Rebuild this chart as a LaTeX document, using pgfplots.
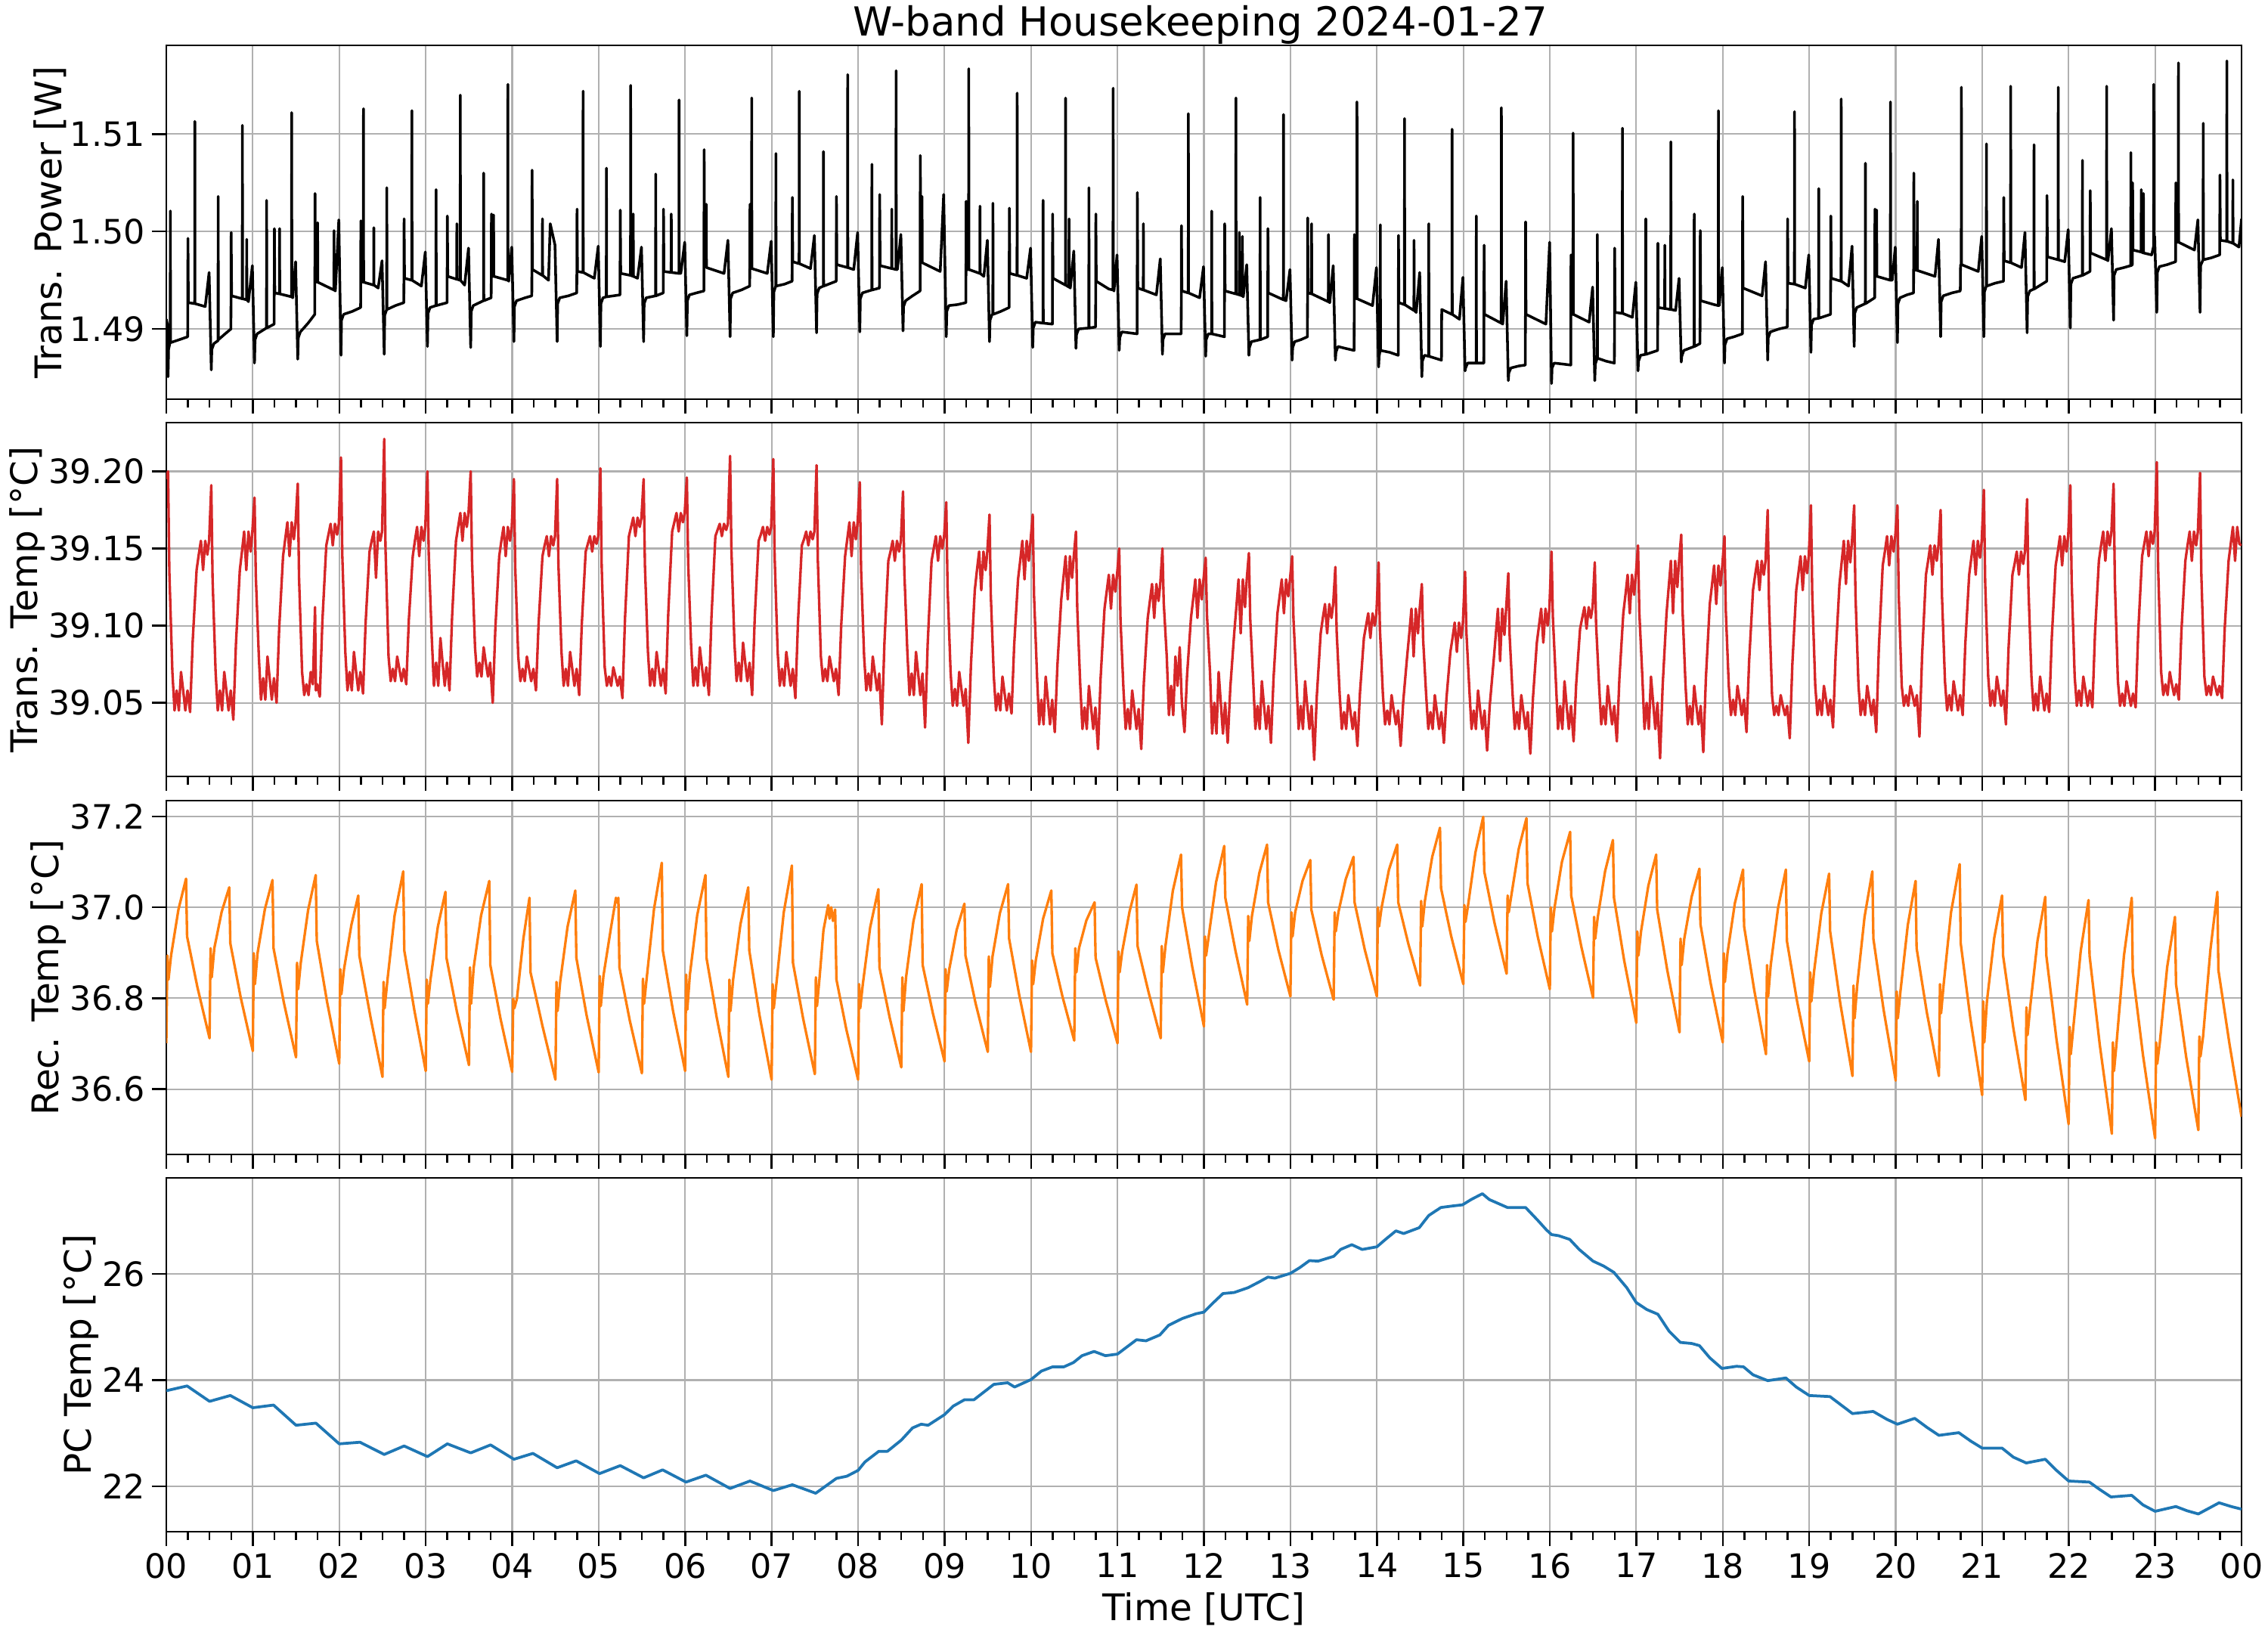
\documentclass[border=0pt]{standalone}
\usepackage{fontspec}
\setmainfont{DejaVu Sans}
\usepackage{pgfplots}
\pgfplotsset{compat=1.18}
\definecolor{tabred}{HTML}{D62728}
\definecolor{taborange}{HTML}{FF7F0E}
\definecolor{tabblue}{HTML}{1F77B4}
\definecolor{gridgray}{HTML}{B0B0B0}
\pgfplotsset{
  hk/.style={
    scale only axis, width=658.8pt, height=112.32pt,
    anchor=south west,
    xmin=0, xmax=24,
    xtick={0,1,...,24},
    minor x tick num=3,
    tick pos=left, tick align=outside,
    major tick length=4.6pt, minor tick length=2.6pt,
    tick style={black, line width=0.6pt},
    grid=major, major grid style={gridgray, line width=0.5pt},
    axis line style={black, line width=0.6pt},
    tick label style={font=\fontsize{10.65}{12}\selectfont, text=black, inner sep=2pt},
    label style={font=\fontsize{11.65}{14}\selectfont},
    ylabel style={inner sep=1pt},
    ylabel shift=-2pt,
    xlabel shift=-1pt,
    /pgf/number format/assume math mode=true,
  }
}
\begin{document}
\begin{tikzpicture}
\path[use as bounding box] (0,0) rectangle (720pt,518.4pt);
\node[anchor=base, font=\fontsize{12.7}{15}\selectfont, inner sep=0pt] at (381pt,507.1pt) {W-band Housekeeping 2024-01-27};
% ---------------- Panel 1 ----------------
\begin{axis}[hk, at={(52.8pt,391.68pt)},
  ymin=1.4828, ymax=1.5191,
  ytick={1.49,1.50,1.51}, yticklabels={1.49,1.50,1.51},
  xticklabels={},
  ylabel={Trans. Power [W]}]
\addplot[black, line width=0.85pt, line join=round] coordinates {
(0.000,1.4910) (0.012,1.4905)
(0.020,1.4851) (0.026,1.4879) (0.040,1.4885) (0.045,1.4885) (0.047,1.5021) (0.049,1.4886) (0.150,1.4889) (0.247,1.4892) (0.250,1.4993) (0.255,1.4927) (0.328,1.4926) (0.330,1.5113) (0.332,1.4926) (0.450,1.4923) (0.495,1.4958)
(0.520,1.4858) (0.526,1.4879) (0.550,1.4885) (0.598,1.4888) (0.600,1.5036) (0.602,1.4889) (0.680,1.4895) (0.747,1.4900) (0.750,1.4999) (0.755,1.4934) (0.878,1.4931) (0.880,1.5109) (0.882,1.4931) (0.928,1.4930) (0.930,1.4992) (0.932,1.4930) (0.950,1.4928) (0.995,1.4965)
(1.020,1.4865) (1.026,1.4889) (1.050,1.4895) (1.158,1.4901) (1.160,1.5032) (1.162,1.4901) (1.247,1.4905) (1.250,1.5003) (1.255,1.4937) (1.308,1.4936) (1.310,1.5003) (1.312,1.4936) (1.448,1.4933) (1.450,1.5122) (1.452,1.4933) (1.462,1.4932) (1.495,1.4969)
(1.520,1.4869) (1.526,1.4891) (1.550,1.4897) (1.640,1.4906) (1.717,1.4915) (1.720,1.5039) (1.725,1.4949) (1.748,1.4948) (1.750,1.5009) (1.752,1.4948) (1.938,1.4940) (1.940,1.5001) (1.942,1.4940) (1.955,1.4939) (1.995,1.5012)
(2.020,1.4873) (2.026,1.4909) (2.050,1.4915) (2.150,1.4918) (2.247,1.4922) (2.250,1.5011) (2.255,1.4949) (2.278,1.4948) (2.280,1.5126) (2.282,1.4948) (2.398,1.4945) (2.400,1.5004) (2.402,1.4945) (2.450,1.4942) (2.495,1.4970)
(2.520,1.4874) (2.526,1.4914) (2.548,1.4920) (2.550,1.5045) (2.552,1.4920) (2.650,1.4924) (2.747,1.4927) (2.750,1.5013) (2.755,1.4952) (2.838,1.4950) (2.840,1.5124) (2.842,1.4950) (2.950,1.4944) (2.995,1.4979)
(3.020,1.4882) (3.026,1.4916) (3.050,1.4922) (3.118,1.4924) (3.120,1.5043) (3.122,1.4924) (3.247,1.4927) (3.250,1.5016) (3.255,1.4954) (3.358,1.4951) (3.360,1.5008) (3.362,1.4951) (3.398,1.4950) (3.400,1.5140) (3.402,1.4950) (3.450,1.4945) (3.495,1.4983)
(3.520,1.4881) (3.526,1.4918) (3.550,1.4924) (3.668,1.4929) (3.670,1.5060) (3.672,1.4929) (3.757,1.4932) (3.760,1.5018) (3.765,1.4954) (3.783,1.4954) (3.785,1.5017) (3.787,1.4954) (3.948,1.4950) (3.950,1.5151) (3.952,1.4950) (3.960,1.4949) (3.995,1.4984)
(4.020,1.4887) (4.026,1.4923) (4.050,1.4929) (4.150,1.4932) (4.227,1.4934) (4.230,1.5063) (4.235,1.4961) (4.348,1.4955) (4.350,1.5013) (4.352,1.4955) (4.420,1.4950) (4.440,1.5008) (4.495,1.4986)
(4.520,1.4887) (4.526,1.4926) (4.550,1.4932) (4.650,1.4934) (4.747,1.4937) (4.750,1.5023) (4.755,1.4959) (4.818,1.4958) (4.820,1.5144) (4.822,1.4958) (4.950,1.4952) (4.995,1.4985)
(5.020,1.4882) (5.026,1.4926) (5.050,1.4932) (5.088,1.4933) (5.090,1.5065) (5.092,1.4933) (5.247,1.4935) (5.250,1.5022) (5.255,1.4957) (5.368,1.4955) (5.370,1.5150) (5.372,1.4955) (5.398,1.4954) (5.400,1.5018) (5.402,1.4954) (5.450,1.4952) (5.495,1.4984)
(5.520,1.4887) (5.526,1.4926) (5.550,1.4932) (5.658,1.4934) (5.660,1.5059) (5.662,1.4934) (5.747,1.4937) (5.750,1.5023) (5.755,1.4959) (5.838,1.4958) (5.840,1.5018) (5.842,1.4958) (5.928,1.4957) (5.930,1.5135) (5.932,1.4957) (5.950,1.4957) (5.995,1.4989)
(6.020,1.4893) (6.026,1.4929) (6.050,1.4935) (6.130,1.4937) (6.217,1.4939) (6.220,1.5084) (6.225,1.4964) (6.243,1.4964) (6.245,1.5028) (6.247,1.4963) (6.450,1.4957) (6.495,1.4991)
(6.520,1.4892) (6.526,1.4931) (6.550,1.4937) (6.650,1.4940) (6.747,1.4944) (6.750,1.5028) (6.755,1.4962) (6.768,1.4962) (6.770,1.5137) (6.772,1.4962) (6.950,1.4957) (6.995,1.4990)
(7.020,1.4892) (7.026,1.4938) (7.048,1.4944) (7.050,1.5080) (7.052,1.4944) (7.150,1.4946) (7.237,1.4949) (7.240,1.5035) (7.245,1.4969) (7.318,1.4967) (7.320,1.5144) (7.322,1.4967) (7.450,1.4962) (7.495,1.4996)
(7.520,1.4896) (7.526,1.4936) (7.550,1.4942) (7.598,1.4944) (7.600,1.5082) (7.602,1.4944) (7.747,1.4949) (7.750,1.5036) (7.755,1.4966) (7.878,1.4963) (7.880,1.5161) (7.882,1.4963) (7.950,1.4961) (7.995,1.4999)
(8.020,1.4897) (8.026,1.4931) (8.050,1.4937) (8.158,1.4940) (8.160,1.5069) (8.162,1.4940) (8.247,1.4942) (8.250,1.5038) (8.255,1.4965) (8.388,1.4962) (8.390,1.5023) (8.392,1.4962) (8.438,1.4961) (8.440,1.5165) (8.442,1.4961) (8.455,1.4961) (8.495,1.4997)
(8.520,1.4898) (8.526,1.4923) (8.550,1.4929) (8.630,1.4934) (8.717,1.4939) (8.720,1.5078) (8.725,1.4969) (8.738,1.4968) (8.740,1.5036) (8.742,1.4968) (8.950,1.4959) (8.990,1.5038)
(9.020,1.4892) (9.026,1.4918) (9.050,1.4924) (9.150,1.4925) (9.247,1.4927) (9.250,1.5031) (9.255,1.4961) (9.278,1.4961) (9.280,1.5167) (9.282,1.4961) (9.408,1.4957) (9.410,1.5026) (9.412,1.4957) (9.455,1.4954) (9.495,1.4991)
(9.520,1.4887) (9.526,1.4909) (9.550,1.4915) (9.558,1.4915) (9.560,1.5029) (9.562,1.4915) (9.650,1.4918) (9.747,1.4922) (9.750,1.5024) (9.755,1.4957) (9.838,1.4955) (9.840,1.5142) (9.842,1.4955) (9.950,1.4952) (9.995,1.4983)
(10.020,1.4881) (10.026,1.4901) (10.050,1.4907) (10.138,1.4906) (10.140,1.5032) (10.142,1.4906) (10.247,1.4905) (10.250,1.5018) (10.255,1.4952) (10.398,1.4945) (10.400,1.5137) (10.402,1.4945) (10.438,1.4943) (10.440,1.5013) (10.442,1.4943) (10.455,1.4942) (10.495,1.4980)
(10.520,1.4880) (10.526,1.4894) (10.550,1.4900) (10.668,1.4901) (10.670,1.5045) (10.672,1.4901) (10.747,1.4902) (10.750,1.5018) (10.755,1.4949) (10.900,1.4941) (10.948,1.4940) (10.950,1.5147) (10.952,1.4940) (10.960,1.4939) (10.995,1.4976)
(11.020,1.4878) (11.026,1.4891) (11.050,1.4897) (11.140,1.4896) (11.227,1.4895) (11.230,1.5040) (11.235,1.4942) (11.298,1.4940) (11.300,1.5008) (11.302,1.4940) (11.450,1.4935) (11.495,1.4972)
(11.520,1.4874) (11.526,1.4889) (11.550,1.4895) (11.640,1.4895) (11.737,1.4895) (11.740,1.5006) (11.745,1.4939) (11.818,1.4937) (11.820,1.5121) (11.822,1.4937) (11.950,1.4932) (11.995,1.4964)
(12.020,1.4872) (12.026,1.4889) (12.050,1.4895) (12.088,1.4895) (12.090,1.5021) (12.092,1.4895) (12.237,1.4892) (12.240,1.5008) (12.245,1.4939) (12.368,1.4936) (12.370,1.5137) (12.372,1.4936) (12.408,1.4935) (12.410,1.4999) (12.412,1.4935) (12.443,1.4934) (12.445,1.4995) (12.447,1.4934) (12.455,1.4933) (12.495,1.4966)
(12.520,1.4873) (12.526,1.4881) (12.550,1.4887) (12.648,1.4889) (12.650,1.5035) (12.652,1.4889) (12.737,1.4892) (12.740,1.5003) (12.745,1.4937) (12.918,1.4930) (12.920,1.5120) (12.922,1.4930) (12.950,1.4929) (12.995,1.4961)
(13.020,1.4868) (13.026,1.4881) (13.050,1.4887) (13.120,1.4889) (13.197,1.4892) (13.200,1.5014) (13.205,1.4937) (13.243,1.4936) (13.245,1.5008) (13.247,1.4936) (13.438,1.4928) (13.440,1.4997) (13.442,1.4928) (13.455,1.4927) (13.495,1.4965)
(13.520,1.4868) (13.526,1.4876) (13.550,1.4882) (13.640,1.4880) (13.737,1.4878) (13.740,1.4997) (13.745,1.4932) (13.768,1.4931) (13.770,1.5133) (13.772,1.4931) (13.950,1.4924) (13.995,1.4963)
(14.020,1.4861) (14.026,1.4872) (14.038,1.4878) (14.040,1.5007) (14.042,1.4878) (14.150,1.4876) (14.247,1.4873) (14.250,1.4996) (14.255,1.4927) (14.318,1.4925) (14.320,1.5116) (14.322,1.4925) (14.428,1.4919) (14.430,1.4991) (14.432,1.4919) (14.455,1.4917) (14.495,1.4958)
(14.520,1.4851) (14.526,1.4867) (14.550,1.4873) (14.598,1.4872) (14.600,1.5008) (14.602,1.4872) (14.747,1.4868) (14.750,1.4920) (14.868,1.4915) (14.870,1.5105) (14.872,1.4915) (14.955,1.4910) (14.995,1.4953)
(15.020,1.4857) (15.026,1.4860) (15.050,1.4865) (15.148,1.4865) (15.150,1.5016) (15.152,1.4865) (15.237,1.4865) (15.240,1.4986) (15.245,1.4915) (15.438,1.4906) (15.440,1.5127) (15.442,1.4906) (15.455,1.4905) (15.495,1.4949)
(15.520,1.4847) (15.526,1.4855) (15.550,1.4860) (15.640,1.4862) (15.717,1.4863) (15.720,1.5010) (15.725,1.4915) (15.955,1.4905) (15.998,1.4989)
(16.020,1.4844) (16.026,1.4860) (16.050,1.4865) (16.150,1.4864) (16.243,1.4863) (16.245,1.4976) (16.250,1.4915) (16.268,1.4915) (16.270,1.5101) (16.272,1.4915) (16.455,1.4907) (16.495,1.4943)
(16.520,1.4847) (16.526,1.4864) (16.548,1.4870) (16.550,1.4997) (16.552,1.4870) (16.650,1.4867) (16.747,1.4865) (16.750,1.4983) (16.755,1.4917) (16.838,1.4916) (16.840,1.5106) (16.842,1.4916) (16.955,1.4912) (16.995,1.4948)
(17.020,1.4857) (17.026,1.4867) (17.050,1.4873) (17.108,1.4874) (17.110,1.5013) (17.112,1.4874) (17.247,1.4878) (17.250,1.4988) (17.255,1.4922) (17.328,1.4921) (17.330,1.4986) (17.332,1.4921) (17.398,1.4920) (17.400,1.5092) (17.402,1.4920) (17.455,1.4919) (17.495,1.4952)
(17.520,1.4866) (17.526,1.4872) (17.550,1.4878) (17.668,1.4882) (17.670,1.5018) (17.672,1.4882) (17.737,1.4885) (17.740,1.5001) (17.745,1.4929) (17.900,1.4925) (17.948,1.4924) (17.950,1.5124) (17.952,1.4924) (17.960,1.4924) (17.995,1.4963)
(18.020,1.4865) (18.026,1.4884) (18.050,1.4890) (18.130,1.4892) (18.227,1.4895) (18.230,1.5036) (18.235,1.4942) (18.455,1.4934) (18.495,1.4969)
(18.520,1.4868) (18.526,1.4891) (18.550,1.4897) (18.650,1.4900) (18.747,1.4902) (18.750,1.5013) (18.755,1.4947) (18.828,1.4946) (18.830,1.5123) (18.832,1.4946) (18.955,1.4942) (18.995,1.4976)
(19.020,1.4876) (19.026,1.4904) (19.050,1.4910) (19.108,1.4911) (19.110,1.5044) (19.112,1.4911) (19.247,1.4915) (19.250,1.5016) (19.255,1.4952) (19.368,1.4949) (19.370,1.5136) (19.372,1.4949) (19.455,1.4944) (19.495,1.4985)
(19.520,1.4882) (19.526,1.4916) (19.550,1.4922) (19.648,1.4926) (19.650,1.5070) (19.652,1.4926) (19.757,1.4932) (19.760,1.5023) (19.765,1.4954) (19.778,1.4954) (19.780,1.5022) (19.782,1.4954) (19.938,1.4950) (19.940,1.5133) (19.942,1.4950) (19.960,1.4950) (19.995,1.4984)
(20.020,1.4886) (20.026,1.4926) (20.050,1.4932) (20.130,1.4935) (20.207,1.4937) (20.210,1.5060) (20.215,1.4961) (20.248,1.4960) (20.250,1.5031) (20.252,1.4960) (20.455,1.4954) (20.495,1.4992)
(20.520,1.4892) (20.526,1.4928) (20.550,1.4934) (20.650,1.4937) (20.747,1.4939) (20.750,1.4966) (20.758,1.4966) (20.760,1.5148) (20.762,1.4966) (20.955,1.4959) (20.995,1.4995)
(21.020,1.4892) (21.026,1.4938) (21.048,1.4944) (21.050,1.5090) (21.052,1.4944) (21.150,1.4947) (21.247,1.4949) (21.250,1.5035) (21.255,1.4970) (21.328,1.4968) (21.330,1.5149) (21.332,1.4968) (21.455,1.4963) (21.495,1.4999)
(21.520,1.4896) (21.526,1.4933) (21.550,1.4939) (21.598,1.4941) (21.600,1.5089) (21.602,1.4941) (21.747,1.4949) (21.750,1.5037) (21.755,1.4974) (21.878,1.4971) (21.880,1.5148) (21.882,1.4971) (21.955,1.4969) (21.995,1.5002)
(22.020,1.4901) (22.026,1.4946) (22.050,1.4952) (22.158,1.4955) (22.160,1.5073) (22.162,1.4955) (22.247,1.4959) (22.250,1.5042) (22.255,1.4978) (22.438,1.4971) (22.440,1.5149) (22.442,1.4971) (22.455,1.4970) (22.495,1.5003)
(22.520,1.4909) (22.526,1.4955) (22.550,1.4961) (22.640,1.4963) (22.718,1.4965) (22.720,1.5081) (22.722,1.4965) (22.737,1.4966) (22.740,1.5050) (22.745,1.4981) (22.838,1.4979) (22.840,1.5043) (22.842,1.4979) (22.863,1.4978) (22.865,1.5039) (22.867,1.4978) (22.960,1.4976) (22.983,1.4985) (22.985,1.5151) (22.987,1.4990) (22.995,1.4995)
(23.020,1.4917) (23.026,1.4958) (23.050,1.4964) (23.140,1.4966) (23.237,1.4969) (23.240,1.5050) (23.245,1.4989) (23.268,1.4989) (23.270,1.5173) (23.272,1.4989) (23.455,1.4981) (23.495,1.5012)
(23.520,1.4917) (23.526,1.4965) (23.555,1.4971) (23.557,1.5111) (23.559,1.4971) (23.650,1.4973) (23.747,1.4976) (23.750,1.5058) (23.755,1.4991) (23.828,1.4990) (23.830,1.5175) (23.832,1.4990) (23.898,1.4988) (23.900,1.5053) (23.902,1.4988) (23.970,1.4984) (24.000,1.5013)
};
\end{axis}
% ---------------- Panel 2 ----------------
\begin{axis}[hk, at={(52.8pt,271.92pt)},
  ymin=39.0023, ymax=39.2316,
  ytick={39.05,39.10,39.15,39.20}, yticklabels={39.05,39.10,39.15,39.20},
  xticklabels={},
  ylabel={Trans. Temp [°C]}]
\addplot[tabred, line width=0.8pt, line join=round] coordinates {
(0.000,39.195) (0.020,39.200) (0.035,39.135) (0.070,39.070) (0.095,39.045) (0.120,39.058) (0.145,39.045) (0.170,39.070) (0.195,39.058) (0.220,39.045) (0.245,39.058) (0.275,39.044) (0.305,39.090) (0.350,39.136) (0.375,39.146) (0.400,39.155) (0.425,39.136) (0.450,39.155) (0.475,39.146) (0.495,39.155)
(0.520,39.191) (0.535,39.130) (0.570,39.070) (0.595,39.045) (0.620,39.058) (0.645,39.045) (0.670,39.070) (0.695,39.058) (0.720,39.045) (0.745,39.058) (0.775,39.039) (0.805,39.088) (0.850,39.136) (0.875,39.148) (0.900,39.161) (0.925,39.136) (0.950,39.161) (0.975,39.148) (0.995,39.161)
(1.020,39.183) (1.035,39.132) (1.070,39.080) (1.095,39.052) (1.120,39.066) (1.145,39.052) (1.170,39.080) (1.195,39.066) (1.220,39.052) (1.245,39.066) (1.275,39.050) (1.305,39.098) (1.350,39.145) (1.375,39.156) (1.400,39.167) (1.425,39.145) (1.450,39.167) (1.475,39.156) (1.495,39.167)
(1.520,39.192) (1.535,39.131) (1.570,39.070) (1.595,39.055) (1.620,39.062) (1.645,39.055) (1.670,39.070) (1.695,39.062) (1.720,39.112) (1.730,39.058) (1.745,39.062) (1.775,39.054) (1.805,39.103) (1.850,39.152) (1.875,39.159) (1.900,39.166) (1.925,39.152) (1.950,39.166) (1.975,39.159) (1.995,39.166)
(2.020,39.209) (2.035,39.146) (2.070,39.083) (2.095,39.058) (2.120,39.070) (2.145,39.058) (2.170,39.083) (2.195,39.070) (2.220,39.058) (2.245,39.070) (2.275,39.056) (2.305,39.102) (2.350,39.148) (2.375,39.155) (2.400,39.161) (2.425,39.131) (2.450,39.161) (2.475,39.155) (2.495,39.161)
(2.520,39.221) (2.535,39.150) (2.570,39.080) (2.595,39.064) (2.620,39.072) (2.645,39.064) (2.670,39.080) (2.695,39.072) (2.720,39.064) (2.745,39.072) (2.775,39.062) (2.805,39.104) (2.850,39.145) (2.875,39.155) (2.900,39.164) (2.925,39.145) (2.950,39.164) (2.975,39.155) (2.995,39.164)
(3.020,39.200) (3.035,39.146) (3.070,39.092) (3.095,39.061) (3.120,39.076) (3.145,39.061) (3.170,39.092) (3.195,39.076) (3.220,39.061) (3.245,39.076) (3.275,39.058) (3.305,39.106) (3.350,39.155) (3.375,39.164) (3.400,39.173) (3.425,39.155) (3.450,39.173) (3.475,39.164) (3.495,39.173)
(3.520,39.200) (3.535,39.143) (3.570,39.086) (3.595,39.067) (3.620,39.076) (3.645,39.067) (3.670,39.086) (3.695,39.076) (3.720,39.067) (3.745,39.076) (3.775,39.050) (3.805,39.098) (3.850,39.145) (3.875,39.155) (3.900,39.164) (3.925,39.145) (3.950,39.164) (3.975,39.155) (3.995,39.164)
(4.020,39.195) (4.035,39.138) (4.070,39.080) (4.095,39.064) (4.120,39.072) (4.145,39.064) (4.170,39.080) (4.195,39.072) (4.220,39.064) (4.245,39.072) (4.275,39.058) (4.305,39.101) (4.350,39.145) (4.375,39.152) (4.400,39.158) (4.425,39.145) (4.450,39.158) (4.475,39.152) (4.495,39.158)
(4.520,39.195) (4.535,39.139) (4.570,39.083) (4.595,39.061) (4.620,39.072) (4.645,39.061) (4.670,39.083) (4.695,39.072) (4.720,39.061) (4.745,39.072) (4.775,39.055) (4.805,39.101) (4.850,39.148) (4.875,39.153) (4.900,39.158) (4.925,39.148) (4.950,39.158) (4.975,39.153) (4.995,39.158)
(5.020,39.202) (5.035,39.138) (5.070,39.073) (5.095,39.061) (5.120,39.067) (5.145,39.061) (5.170,39.073) (5.195,39.067) (5.220,39.061) (5.245,39.067) (5.275,39.053) (5.305,39.105) (5.350,39.158) (5.375,39.164) (5.400,39.170) (5.425,39.158) (5.450,39.170) (5.475,39.164) (5.495,39.170)
(5.520,39.195) (5.535,39.139) (5.570,39.083) (5.595,39.061) (5.620,39.072) (5.645,39.061) (5.670,39.083) (5.695,39.072) (5.720,39.061) (5.745,39.072) (5.775,39.056) (5.805,39.108) (5.850,39.161) (5.875,39.167) (5.900,39.173) (5.925,39.161) (5.950,39.173) (5.975,39.167) (5.995,39.173)
(6.020,39.196) (6.035,39.141) (6.070,39.086) (6.095,39.061) (6.120,39.073) (6.145,39.061) (6.170,39.086) (6.195,39.073) (6.220,39.061) (6.245,39.073) (6.275,39.055) (6.305,39.106) (6.350,39.158) (6.375,39.162) (6.400,39.166) (6.425,39.158) (6.450,39.166) (6.475,39.162) (6.495,39.166)
(6.520,39.210) (6.535,39.150) (6.570,39.089) (6.595,39.064) (6.620,39.076) (6.645,39.064) (6.670,39.089) (6.695,39.076) (6.720,39.064) (6.745,39.076) (6.775,39.055) (6.805,39.105) (6.850,39.155) (6.875,39.159) (6.900,39.164) (6.925,39.155) (6.950,39.164) (6.975,39.159) (6.995,39.164)
(7.020,39.208) (7.035,39.145) (7.070,39.083) (7.095,39.061) (7.120,39.072) (7.145,39.061) (7.170,39.083) (7.195,39.072) (7.220,39.061) (7.245,39.072) (7.275,39.053) (7.305,39.102) (7.350,39.152) (7.375,39.156) (7.400,39.161) (7.425,39.152) (7.450,39.161) (7.475,39.156) (7.495,39.161)
(7.520,39.204) (7.535,39.142) (7.570,39.080) (7.595,39.064) (7.620,39.072) (7.645,39.064) (7.670,39.080) (7.695,39.072) (7.720,39.064) (7.745,39.072) (7.775,39.055) (7.805,39.100) (7.850,39.145) (7.875,39.156) (7.900,39.167) (7.925,39.145) (7.950,39.167) (7.975,39.156) (7.995,39.167)
(8.020,39.193) (8.035,39.136) (8.070,39.080) (8.095,39.058) (8.120,39.069) (8.145,39.058) (8.170,39.080) (8.195,39.069) (8.220,39.058) (8.245,39.069) (8.275,39.036) (8.305,39.089) (8.350,39.142) (8.375,39.148) (8.400,39.155) (8.425,39.142) (8.450,39.155) (8.475,39.148) (8.495,39.155)
(8.520,39.187) (8.535,39.135) (8.570,39.083) (8.595,39.055) (8.620,39.069) (8.645,39.055) (8.670,39.083) (8.695,39.069) (8.720,39.055) (8.745,39.069) (8.775,39.034) (8.805,39.088) (8.850,39.142) (8.875,39.150) (8.900,39.158) (8.925,39.142) (8.950,39.158) (8.975,39.150) (8.995,39.158)
(9.020,39.180) (9.035,39.125) (9.070,39.070) (9.095,39.048) (9.120,39.059) (9.145,39.048) (9.170,39.070) (9.195,39.059) (9.220,39.048) (9.245,39.059) (9.275,39.024) (9.305,39.074) (9.350,39.123) (9.375,39.136) (9.400,39.148) (9.425,39.123) (9.450,39.148) (9.475,39.136) (9.495,39.148)
(9.520,39.172) (9.535,39.120) (9.570,39.067) (9.595,39.045) (9.620,39.056) (9.645,39.045) (9.670,39.067) (9.695,39.056) (9.720,39.045) (9.745,39.056) (9.775,39.043) (9.805,39.087) (9.850,39.130) (9.875,39.142) (9.900,39.155) (9.925,39.130) (9.950,39.155) (9.975,39.142) (9.995,39.155)
(10.020,39.172) (10.035,39.120) (10.070,39.067) (10.095,39.036) (10.120,39.052) (10.145,39.036) (10.170,39.067) (10.195,39.052) (10.220,39.036) (10.245,39.052) (10.275,39.031) (10.305,39.074) (10.350,39.117) (10.375,39.131) (10.400,39.145) (10.425,39.117) (10.450,39.145) (10.475,39.131) (10.495,39.145)
(10.520,39.161) (10.535,39.111) (10.570,39.061) (10.595,39.033) (10.620,39.047) (10.645,39.033) (10.670,39.061) (10.695,39.047) (10.720,39.033) (10.745,39.047) (10.775,39.020) (10.805,39.066) (10.850,39.111) (10.875,39.122) (10.900,39.133) (10.925,39.111) (10.950,39.133) (10.975,39.122) (10.995,39.133)
(11.020,39.150) (11.035,39.104) (11.070,39.058) (11.095,39.033) (11.120,39.046) (11.145,39.033) (11.170,39.058) (11.195,39.046) (11.220,39.033) (11.245,39.046) (11.275,39.020) (11.305,39.063) (11.350,39.105) (11.375,39.116) (11.400,39.127) (11.425,39.105) (11.450,39.127) (11.475,39.116) (11.495,39.127)
(11.520,39.150) (11.535,39.115) (11.570,39.080) (11.595,39.042) (11.620,39.061) (11.645,39.042) (11.670,39.080) (11.695,39.061) (11.720,39.086) (11.745,39.050) (11.775,39.031) (11.805,39.068) (11.850,39.105) (11.875,39.117) (11.900,39.130) (11.925,39.105) (11.950,39.130) (11.975,39.117) (11.995,39.130)
(12.020,39.144) (12.035,39.107) (12.070,39.070) (12.095,39.030) (12.120,39.050) (12.145,39.030) (12.170,39.070) (12.195,39.050) (12.220,39.030) (12.245,39.050) (12.275,39.024) (12.305,39.060) (12.350,39.095) (12.375,39.112) (12.400,39.130) (12.425,39.095) (12.450,39.130) (12.475,39.112) (12.495,39.130)
(12.520,39.147) (12.535,39.105) (12.570,39.064) (12.595,39.033) (12.620,39.048) (12.645,39.033) (12.670,39.064) (12.695,39.048) (12.720,39.033) (12.745,39.048) (12.775,39.024) (12.805,39.066) (12.850,39.108) (12.875,39.119) (12.900,39.130) (12.925,39.108) (12.950,39.130) (12.975,39.119) (12.995,39.130)
(13.020,39.145) (13.035,39.105) (13.070,39.064) (13.095,39.033) (13.120,39.048) (13.145,39.033) (13.170,39.064) (13.195,39.048) (13.220,39.033) (13.245,39.048) (13.275,39.013) (13.305,39.054) (13.350,39.095) (13.375,39.105) (13.400,39.114) (13.425,39.095) (13.450,39.114) (13.475,39.105) (13.495,39.114)
(13.520,39.138) (13.535,39.096) (13.570,39.055) (13.595,39.033) (13.620,39.044) (13.645,39.033) (13.670,39.055) (13.695,39.044) (13.720,39.033) (13.745,39.044) (13.775,39.022) (13.805,39.057) (13.850,39.092) (13.875,39.100) (13.900,39.108) (13.925,39.092) (13.950,39.108) (13.975,39.100) (13.995,39.108)
(14.020,39.141) (14.035,39.098) (14.070,39.055) (14.095,39.036) (14.120,39.045) (14.145,39.036) (14.170,39.055) (14.195,39.045) (14.220,39.036) (14.245,39.045) (14.275,39.022) (14.305,39.051) (14.350,39.080) (14.375,39.095) (14.400,39.111) (14.425,39.080) (14.450,39.111) (14.475,39.095) (14.495,39.111)
(14.520,39.127) (14.535,39.091) (14.570,39.055) (14.595,39.033) (14.620,39.044) (14.645,39.033) (14.670,39.055) (14.695,39.044) (14.720,39.033) (14.745,39.044) (14.775,39.024) (14.805,39.053) (14.850,39.083) (14.875,39.092) (14.900,39.102) (14.925,39.083) (14.950,39.102) (14.975,39.092) (14.995,39.102)
(15.020,39.135) (15.035,39.096) (15.070,39.058) (15.095,39.033) (15.120,39.045) (15.145,39.033) (15.170,39.058) (15.195,39.045) (15.220,39.033) (15.245,39.045) (15.275,39.019) (15.305,39.048) (15.350,39.077) (15.375,39.094) (15.400,39.111) (15.425,39.077) (15.450,39.111) (15.475,39.094) (15.495,39.111)
(15.520,39.134) (15.535,39.094) (15.570,39.055) (15.595,39.033) (15.620,39.044) (15.645,39.033) (15.670,39.055) (15.695,39.044) (15.720,39.033) (15.745,39.044) (15.775,39.017) (15.805,39.053) (15.850,39.089) (15.875,39.100) (15.900,39.111) (15.925,39.089) (15.950,39.111) (15.975,39.100) (15.995,39.111)
(16.020,39.148) (16.035,39.106) (16.070,39.064) (16.095,39.033) (16.120,39.048) (16.145,39.033) (16.170,39.064) (16.195,39.048) (16.220,39.033) (16.245,39.048) (16.275,39.025) (16.305,39.062) (16.350,39.098) (16.375,39.105) (16.400,39.112) (16.425,39.098) (16.450,39.112) (16.475,39.105) (16.495,39.112)
(16.520,39.141) (16.535,39.101) (16.570,39.061) (16.595,39.036) (16.620,39.048) (16.645,39.036) (16.670,39.061) (16.695,39.048) (16.720,39.036) (16.745,39.048) (16.775,39.025) (16.805,39.066) (16.850,39.108) (16.875,39.120) (16.900,39.133) (16.925,39.108) (16.950,39.133) (16.975,39.120) (16.995,39.133)
(17.020,39.152) (17.035,39.109) (17.070,39.067) (17.095,39.033) (17.120,39.050) (17.145,39.033) (17.170,39.067) (17.195,39.050) (17.220,39.033) (17.245,39.050) (17.275,39.014) (17.305,39.061) (17.350,39.108) (17.375,39.125) (17.400,39.142) (17.425,39.108) (17.450,39.142) (17.475,39.125) (17.495,39.142)
(17.520,39.159) (17.535,39.110) (17.570,39.061) (17.595,39.036) (17.620,39.048) (17.645,39.036) (17.670,39.061) (17.695,39.048) (17.720,39.036) (17.745,39.048) (17.775,39.018) (17.805,39.066) (17.850,39.114) (17.875,39.126) (17.900,39.139) (17.925,39.114) (17.950,39.139) (17.975,39.126) (17.995,39.139)
(18.020,39.158) (18.035,39.110) (18.070,39.061) (18.095,39.042) (18.120,39.052) (18.145,39.042) (18.170,39.061) (18.195,39.052) (18.220,39.042) (18.245,39.052) (18.275,39.031) (18.305,39.077) (18.350,39.123) (18.375,39.133) (18.400,39.142) (18.425,39.123) (18.450,39.142) (18.475,39.133) (18.495,39.142)
(18.520,39.175) (18.535,39.115) (18.570,39.055) (18.595,39.042) (18.620,39.048) (18.645,39.042) (18.670,39.055) (18.695,39.048) (18.720,39.042) (18.745,39.048) (18.775,39.027) (18.805,39.075) (18.850,39.123) (18.875,39.134) (18.900,39.145) (18.925,39.123) (18.950,39.145) (18.975,39.134) (18.995,39.145)
(19.020,39.178) (19.035,39.120) (19.070,39.061) (19.095,39.042) (19.120,39.052) (19.145,39.042) (19.170,39.061) (19.195,39.052) (19.220,39.042) (19.245,39.052) (19.275,39.034) (19.305,39.080) (19.350,39.127) (19.375,39.141) (19.400,39.155) (19.425,39.127) (19.450,39.155) (19.475,39.141) (19.495,39.155)
(19.520,39.178) (19.535,39.120) (19.570,39.061) (19.595,39.042) (19.620,39.052) (19.645,39.042) (19.670,39.061) (19.695,39.052) (19.720,39.042) (19.745,39.052) (19.775,39.031) (19.805,39.085) (19.850,39.139) (19.875,39.148) (19.900,39.158) (19.925,39.139) (19.950,39.158) (19.975,39.148) (19.995,39.158)
(20.020,39.178) (20.035,39.120) (20.070,39.061) (20.095,39.048) (20.120,39.055) (20.145,39.048) (20.170,39.061) (20.195,39.055) (20.220,39.048) (20.245,39.055) (20.275,39.028) (20.305,39.080) (20.350,39.133) (20.375,39.142) (20.400,39.152) (20.425,39.133) (20.450,39.152) (20.475,39.142) (20.495,39.152)
(20.520,39.175) (20.535,39.120) (20.570,39.064) (20.595,39.045) (20.620,39.055) (20.645,39.045) (20.670,39.064) (20.695,39.055) (20.720,39.045) (20.745,39.055) (20.775,39.042) (20.805,39.088) (20.850,39.133) (20.875,39.144) (20.900,39.155) (20.925,39.133) (20.950,39.155) (20.975,39.144) (20.995,39.155)
(21.020,39.188) (21.035,39.128) (21.070,39.067) (21.095,39.048) (21.120,39.058) (21.145,39.048) (21.170,39.067) (21.195,39.058) (21.220,39.048) (21.245,39.058) (21.275,39.036) (21.305,39.085) (21.350,39.133) (21.375,39.140) (21.400,39.148) (21.425,39.133) (21.450,39.148) (21.475,39.140) (21.495,39.148)
(21.520,39.182) (21.535,39.125) (21.570,39.067) (21.595,39.045) (21.620,39.056) (21.645,39.045) (21.670,39.067) (21.695,39.056) (21.720,39.045) (21.745,39.056) (21.775,39.044) (21.805,39.092) (21.850,39.139) (21.875,39.148) (21.900,39.158) (21.925,39.139) (21.950,39.158) (21.975,39.148) (21.995,39.158)
(22.020,39.191) (22.035,39.129) (22.070,39.067) (22.095,39.048) (22.120,39.058) (22.145,39.048) (22.170,39.067) (22.195,39.058) (22.220,39.048) (22.245,39.058) (22.275,39.047) (22.305,39.095) (22.350,39.142) (22.375,39.152) (22.400,39.161) (22.425,39.142) (22.450,39.161) (22.475,39.152) (22.495,39.161)
(22.520,39.192) (22.535,39.128) (22.570,39.064) (22.595,39.048) (22.620,39.056) (22.645,39.048) (22.670,39.064) (22.695,39.056) (22.720,39.048) (22.745,39.056) (22.775,39.047) (22.805,39.096) (22.850,39.145) (22.875,39.153) (22.900,39.161) (22.925,39.145) (22.950,39.161) (22.975,39.153) (22.995,39.161)
(23.020,39.206) (23.035,39.138) (23.070,39.070) (23.095,39.055) (23.120,39.062) (23.145,39.055) (23.170,39.070) (23.195,39.062) (23.220,39.055) (23.245,39.062) (23.275,39.052) (23.305,39.097) (23.350,39.142) (23.375,39.152) (23.400,39.161) (23.425,39.142) (23.450,39.161) (23.475,39.152) (23.495,39.161)
(23.520,39.199) (23.535,39.133) (23.570,39.067) (23.595,39.055) (23.620,39.061) (23.645,39.055) (23.670,39.067) (23.695,39.061) (23.720,39.055) (23.745,39.061) (23.775,39.053) (23.805,39.098) (23.850,39.142) (23.875,39.153) (23.900,39.164) (23.925,39.142) (23.950,39.164) (23.975,39.153) (24.000,39.152)
};
\end{axis}
% ---------------- Panel 3 ----------------
\begin{axis}[hk, at={(52.8pt,151.92pt)},
  ymin=36.4565, ymax=37.2347,
  ytick={36.6,36.8,37.0,37.2}, yticklabels={36.6,36.8,37.0,37.2},
  xticklabels={},
  ylabel={Rec. Temp [°C]}]
\addplot[taborange, line width=0.8pt, line join=round] coordinates {
(0.000,36.701) (0.012,36.894) (0.025,36.841) (0.055,36.894) (0.140,36.995) (0.228,37.063) (0.240,36.936) (0.360,36.824)
(0.500,36.712) (0.512,36.910) (0.525,36.846) (0.555,36.910) (0.640,36.990) (0.728,37.044) (0.740,36.921) (0.860,36.802)
(1.000,36.684) (1.012,36.899) (1.025,36.831) (1.055,36.899) (1.140,36.996) (1.228,37.060) (1.240,36.910) (1.360,36.790)
(1.500,36.670) (1.512,36.878) (1.525,36.820) (1.555,36.878) (1.640,36.994) (1.728,37.071) (1.740,36.926) (1.860,36.791)
(2.000,36.656) (2.012,36.864) (2.025,36.809) (2.055,36.864) (2.140,36.961) (2.220,37.026) (2.232,36.894) (2.360,36.760)
(2.500,36.627) (2.512,36.836) (2.525,36.778) (2.555,36.836) (2.640,36.982) (2.740,37.079) (2.752,36.905) (2.870,36.772)
(3.000,36.640) (3.012,36.841) (3.025,36.788) (3.055,36.841) (3.140,36.957) (3.228,37.034) (3.240,36.889) (3.360,36.771)
(3.500,36.653) (3.512,36.868) (3.525,36.788) (3.555,36.868) (3.640,36.982) (3.735,37.058) (3.747,36.873) (3.865,36.755)
(4.000,36.638) (4.012,36.799) (4.025,36.778) (4.055,36.799) (4.130,36.932) (4.200,37.021) (4.212,36.857) (4.350,36.739)
(4.500,36.621) (4.512,36.836) (4.525,36.772) (4.555,36.836) (4.640,36.957) (4.730,37.037) (4.742,36.889) (4.860,36.763)
(5.000,36.637) (5.012,36.849) (5.025,36.783) (5.055,36.849) (5.140,36.952) (5.200,37.021) (5.215,37.010) (5.228,37.021) (5.240,36.868) (5.360,36.751)
(5.500,36.635) (5.512,36.843) (5.525,36.788) (5.555,36.843) (5.640,36.996) (5.730,37.098) (5.742,36.905) (5.860,36.772)
(6.000,36.640) (6.012,36.852) (6.025,36.775) (6.055,36.852) (6.140,36.983) (6.235,37.071) (6.247,36.889) (6.365,36.758)
(6.500,36.627) (6.512,36.841) (6.525,36.772) (6.555,36.841) (6.640,36.963) (6.730,37.044) (6.742,36.905) (6.860,36.763)
(7.000,36.621) (7.012,36.831) (7.025,36.778) (7.055,36.831) (7.140,36.988) (7.235,37.092) (7.247,36.878) (7.365,36.755)
(7.500,36.633) (7.512,36.846) (7.525,36.783) (7.555,36.846) (7.600,36.950) (7.640,36.990) (7.655,37.005) (7.670,36.975) (7.690,37.000) (7.710,36.970) (7.735,36.995) (7.750,36.841) (7.865,36.731)
(8.000,36.621) (8.012,36.831) (8.025,36.778) (8.055,36.831) (8.140,36.956) (8.235,37.040) (8.247,36.868) (8.365,36.758)
(8.500,36.648) (8.512,36.846) (8.525,36.772) (8.555,36.846) (8.640,36.969) (8.735,37.051) (8.747,36.873) (8.865,36.767)
(9.000,36.661) (9.012,36.864) (9.025,36.815) (9.055,36.864) (9.140,36.950) (9.230,37.008) (9.242,36.894) (9.360,36.788)
(9.500,36.682) (9.512,36.892) (9.525,36.825) (9.555,36.892) (9.640,36.987) (9.735,37.051) (9.747,36.931) (9.865,36.806)
(10.000,36.682) (10.012,36.883) (10.025,36.831) (10.055,36.883) (10.140,36.975) (10.235,37.037) (10.247,36.899) (10.365,36.803)
(10.500,36.707) (10.512,36.910) (10.525,36.857) (10.555,36.910) (10.640,36.971) (10.735,37.011) (10.747,36.889) (10.865,36.795)
(11.000,36.701) (11.012,36.903) (11.025,36.857) (11.055,36.903) (11.140,36.991) (11.220,37.050) (11.232,36.915) (11.360,36.813)
(11.500,36.712) (11.512,36.915) (11.525,36.857) (11.555,36.915) (11.640,37.036) (11.735,37.116) (11.747,37.000) (11.865,36.869)
(12.000,36.738) (12.012,36.936) (12.025,36.894) (12.055,36.936) (12.140,37.055) (12.235,37.135) (12.247,37.021) (12.365,36.904)
(12.500,36.786) (12.512,36.981) (12.525,36.926) (12.555,36.981) (12.640,37.075) (12.730,37.138) (12.742,37.011) (12.860,36.907)
(13.000,36.804) (13.012,36.989) (13.025,36.936) (13.055,36.989) (13.140,37.058) (13.230,37.104) (13.242,36.995) (13.360,36.896)
(13.500,36.797) (13.512,36.989) (13.525,36.947) (13.555,36.989) (13.640,37.062) (13.730,37.111) (13.742,37.011) (13.860,36.907)
(14.000,36.804) (14.012,37.000) (14.025,36.958) (14.055,37.000) (14.140,37.083) (14.235,37.138) (14.247,37.011) (14.365,36.919)
(14.500,36.828) (14.512,37.014) (14.525,36.958) (14.555,37.014) (14.640,37.111) (14.730,37.175) (14.742,37.042) (14.860,36.936)
(15.000,36.831) (15.012,37.005) (15.025,36.968) (15.055,37.005) (15.140,37.121) (15.230,37.199) (15.242,37.079) (15.360,36.966)
(15.500,36.854) (15.512,37.026) (15.525,36.989) (15.555,37.026) (15.640,37.128) (15.730,37.196) (15.742,37.053) (15.860,36.936)
(16.000,36.820) (16.012,37.000) (16.025,36.947) (16.055,37.000) (16.140,37.100) (16.235,37.166) (16.247,37.026) (16.365,36.913)
(16.500,36.801) (16.512,36.979) (16.525,36.931) (16.555,36.979) (16.640,37.080) (16.730,37.148) (16.742,37.021) (16.860,36.883)
(17.000,36.746) (17.012,36.947) (17.025,36.894) (17.055,36.947) (17.140,37.048) (17.230,37.116) (17.242,36.995) (17.360,36.860)
(17.500,36.725) (17.512,36.931) (17.525,36.873) (17.555,36.931) (17.640,37.023) (17.730,37.085) (17.742,36.963) (17.860,36.833)
(18.000,36.703) (18.012,36.899) (18.025,36.836) (18.055,36.899) (18.140,37.009) (18.235,37.083) (18.247,36.958) (18.365,36.817)
(18.500,36.677) (18.512,36.873) (18.525,36.804) (18.555,36.873) (18.640,36.999) (18.730,37.083) (18.742,36.926) (18.860,36.793)
(19.000,36.661) (19.012,36.857) (19.025,36.793) (19.055,36.857) (19.140,36.987) (19.230,37.074) (19.242,36.947) (19.360,36.788)
(19.500,36.629) (19.512,36.828) (19.525,36.756) (19.555,36.828) (19.640,36.979) (19.730,37.079) (19.742,36.931) (19.860,36.775)
(20.000,36.619) (20.012,36.815) (20.025,36.756) (20.055,36.815) (20.140,36.961) (20.230,37.058) (20.242,36.910) (20.360,36.769)
(20.500,36.629) (20.512,36.831) (20.525,36.767) (20.555,36.831) (20.640,36.989) (20.740,37.095) (20.752,36.921) (20.865,36.754)
(21.000,36.587) (21.012,36.793) (21.025,36.703) (21.055,36.793) (21.140,36.933) (21.230,37.026) (21.242,36.894) (21.360,36.735)
(21.500,36.576) (21.512,36.780) (21.525,36.719) (21.555,36.780) (21.640,36.926) (21.730,37.023) (21.742,36.894) (21.860,36.709)
(22.000,36.523) (22.012,36.737) (22.025,36.677) (22.055,36.737) (22.140,36.904) (22.230,37.016) (22.242,36.894) (22.360,36.698)
(22.500,36.502) (22.512,36.703) (22.525,36.640) (22.555,36.703) (22.640,36.894) (22.730,37.021) (22.742,36.857) (22.860,36.675)
(23.000,36.492) (23.012,36.703) (23.025,36.656) (23.055,36.703) (23.140,36.869) (23.230,36.979) (23.242,36.831) (23.360,36.670)
(23.500,36.510) (23.512,36.716) (23.525,36.672) (23.555,36.716) (23.640,36.907) (23.720,37.034) (23.732,36.862) (23.860,36.700) (24.000,36.539)
};
\end{axis}
% ---------------- Panel 4 ----------------
\begin{axis}[hk, at={(52.8pt,32.16pt)},
  ymin=21.146, ymax=27.808,
  ytick={22,24,26}, yticklabels={22,24,26},
  xticklabels={00,01,02,03,04,05,06,07,08,09,10,11,12,13,14,15,16,17,18,19,20,21,22,23,00},
  xlabel={Time [UTC]},
  ylabel={PC Temp [°C]}]
\addplot[tabblue, line width=0.9pt, line join=round] coordinates {
(0.00,23.80) (0.24,23.89) (0.50,23.60) (0.74,23.71) (1.00,23.48) (1.24,23.53) (1.50,23.15) (1.73,23.19) (2.00,22.80) (2.24,22.83) (2.52,22.60) (2.75,22.76) (3.02,22.56) (3.25,22.80) (3.52,22.63) (3.75,22.78) (4.02,22.51) (4.24,22.62) (4.52,22.35) (4.74,22.48) (5.01,22.24) (5.25,22.39) (5.52,22.16) (5.74,22.31) (6.01,22.08) (6.24,22.21) (6.52,21.96) (6.75,22.10) (7.02,21.92) (7.24,22.03) (7.51,21.87) (7.75,22.15) (7.87,22.19) (8.00,22.30) (8.08,22.46) (8.24,22.66) (8.34,22.66) (8.50,22.87) (8.63,23.10) (8.73,23.17) (8.81,23.15) (9.00,23.35) (9.10,23.51) (9.23,23.63) (9.34,23.63) (9.57,23.92) (9.73,23.95) (9.81,23.87) (10.00,24.01) (10.12,24.17) (10.25,24.25) (10.38,24.25) (10.49,24.33) (10.59,24.46) (10.73,24.54) (10.86,24.46) (11.00,24.49) (11.22,24.76) (11.33,24.74) (11.49,24.85) (11.59,25.03) (11.75,25.16) (11.91,25.25) (12.00,25.28) (12.11,25.46) (12.22,25.63) (12.35,25.65) (12.51,25.74) (12.64,25.85) (12.74,25.94) (12.82,25.92) (13.00,26.01) (13.11,26.12) (13.22,26.25) (13.32,26.24) (13.50,26.33) (13.58,26.46) (13.71,26.55) (13.83,26.46) (14.00,26.51) (14.10,26.65) (14.22,26.81) (14.31,26.76) (14.49,26.87) (14.60,27.10) (14.74,27.25) (14.88,27.28) (14.99,27.30) (15.09,27.40) (15.22,27.51) (15.30,27.40) (15.51,27.25) (15.72,27.25) (15.86,27.01) (15.96,26.83) (16.02,26.74) (16.10,26.72) (16.23,26.65) (16.34,26.46) (16.50,26.24) (16.62,26.15) (16.74,26.03) (16.89,25.74) (17.00,25.46) (17.12,25.33) (17.25,25.24) (17.38,24.92) (17.51,24.71) (17.64,24.69) (17.73,24.65) (17.85,24.42) (17.99,24.22) (18.16,24.26) (18.24,24.25) (18.35,24.10) (18.52,23.99) (18.73,24.04) (18.85,23.87) (19.00,23.71) (19.24,23.69) (19.37,23.53) (19.50,23.37) (19.74,23.41) (19.90,23.26) (20.02,23.17) (20.22,23.28) (20.37,23.10) (20.50,22.96) (20.73,23.01) (20.87,22.85) (21.00,22.72) (21.23,22.72) (21.36,22.55) (21.51,22.44) (21.73,22.51) (21.86,22.30) (22.00,22.10) (22.24,22.08) (22.36,21.94) (22.49,21.80) (22.73,21.83) (22.86,21.65) (23.00,21.53) (23.24,21.62) (23.37,21.54) (23.50,21.48) (23.74,21.69) (23.88,21.62) (24.00,21.57)
};
\end{axis}
\end{tikzpicture}
\end{document}
